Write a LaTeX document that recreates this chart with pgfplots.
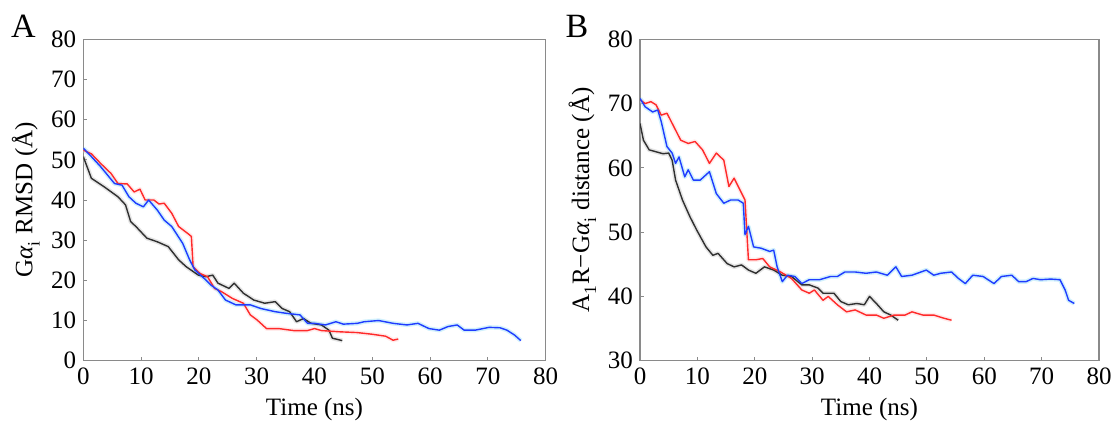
\documentclass[border=0pt]{standalone}
\usepackage{pgfplots}
\pgfplotsset{compat=1.18}
\usepackage{pgfplotstable}
\usepackage{fontspec}
\setmainfont{Liberation Serif}

\definecolor{frame}{HTML}{8A8A8A}
\definecolor{lnblack}{HTML}{303030}
\definecolor{lnred}{HTML}{FF2A2A}
\definecolor{lnblue}{HTML}{1F3CFF}

% subscript set a little lower, as in the reference
\newcommand{\lsub}[1]{\raisebox{-0.3ex}{\textsubscript{#1}}}

% panel A: Galpha_i RMSD
\pgfplotstableread{
t v
0 50.8
1.4 45.4
3.6 43.3
6 40.8
7.3 38.8
8.2 34.6
9.1 33.4
11 30.5
12.8 29.6
14.7 28.4
16.5 25.1
17.8 23.4
19.9 21.3
21.2 20.9
22.4 21.3
23.3 19.3
25.2 18
26.1 19.3
27.7 16.8
29.5 15.1
31.4 14.3
33.2 14.7
34.4 13
35.7 12.2
36.9 9.7
38.1 10.5
39.4 9.3
41.2 8.9
42.5 7.6
43.1 5.6
44.8 5
}\Ablack
\pgfplotstableread{
t v
0 52.4
1.4 51.5
3 49.1
4.8 46.6
6 44.1
7.6 44
8.8 42
9.8 42.7
10.7 40
12.2 40
13.1 39
14 39.2
15.3 36.7
16.5 33.4
18.4 31.3
18.7 30.9
19 23.4
20.2 21.7
21.5 20.9
22.7 18
23.9 17.2
25.8 15.5
27.7 14.3
28.9 11.4
30.1 10.1
31.7 8
33.8 8
36.4 7.5
38.8 7.5
40 8
41.2 7.5
44.3 7.2
47.4 7
49.9 6.6
52.3 6.1
53.6 5.1
54.5 5.4
}\Ared
\pgfplotstableread{
t v
0 52.9
1.4 50.8
3 48.3
4.2 46.2
5.4 44.1
6.7 43.7
7.9 40.8
9.1 39.2
10.4 38.3
11.3 40
12.8 37.5
14 35
15.3 33.4
17.2 29.2
18.4 25.1
19.3 22.6
20.9 20.5
22.1 18.8
23.3 17.6
24.6 15.1
26.4 13.9
28.9 13.9
30.7 13
33.2 12.2
35.1 11.8
37.5 11.4
38.8 9.3
40 9.3
41.9 8.9
43.7 9.7
45 9.1
47.4 9.3
48.6 9.7
51.1 10
53.6 9.3
56 8.9
57.9 9.3
59.8 8
61.6 7.6
63.1 8.5
64.7 8.9
65.9 7.6
67.8 7.6
70.2 8.3
72.1 8.2
73.3 7.6
74.6 6.4
75.7 5
}\Ablue

% panel B: A1R-Galpha_i distance
\pgfplotstableread{
t v
0 66.9
0.6 64.3
1.6 62.8
2.8 62.5
4 62.2
5 62.3
5.6 61.2
6.2 58.1
7.4 55
8.7 52.4
9.9 50.3
11.5 47.7
12.7 46.4
13.6 46.7
15.2 45.1
16.4 44.6
17.7 44.9
18.9 44.1
20.2 43.6
21.7 44.6
23.3 44.1
24.8 43.3
26.4 43.1
28.2 41.8
29.5 41.8
31 41.3
31.9 40.5
33.8 40.5
35 39.2
36.3 38.7
37.8 38.9
39.1 38.7
40 40
41.2 38.9
42.5 37.6
43.7 37.1
45 36.3
}\Bblack
\pgfplotstableread{
t v
0 70.6
0.9 70
1.9 70.3
2.8 69.8
3.7 68.2
4.7 68.5
5.9 66.4
7.1 64.3
8.4 63.8
9.6 64.1
10.9 62.8
12.1 60.7
13.3 62.3
14.6 61.2
15.5 57.1
16.4 58.4
17.4 56.6
18.3 55
18.9 45.7
20.2 45.7
21.4 45.9
22.6 44.6
24.5 43.8
26.4 42.8
28.2 41
29.5 40.5
30.4 41
31.9 39.4
32.8 40
34.4 38.7
36 37.6
37.5 37.9
39.4 37.1
41.2 37.1
42.5 36.6
44.3 37.1
46.2 37.1
47.4 37.6
49.3 37.1
51.2 37.1
53 36.6
54.3 36.3
}\Bred
\pgfplotstableread{
t v
0 70.8
0.9 69.5
2.2 68.7
3.1 69
3.7 67.2
4.7 63.3
5.6 62.3
6.2 60.7
6.8 61.7
7.8 58.6
8.4 59.7
9.3 58.1
10.5 58.1
12.1 59.4
13.3 56
14.6 54.5
15.8 55
17.1 55
18 54.5
18.3 49.6
18.9 50.9
19.8 47.7
21.1 47.5
22.6 47
23.3 47.2
23.9 44.6
24.8 42.3
25.7 43.3
27 43.1
28.2 42
29.5 42.6
31.3 42.6
33.2 43.1
34.4 43.1
35.7 43.8
37.5 43.8
39.4 43.6
41.2 43.8
43.1 43.3
44.6 44.6
45.6 43.1
47.4 43.3
49.9 44.1
51.2 43.3
52.4 43.6
54.3 43.8
55.5 42.8
56.7 42
58 43.3
59.8 43.1
61.7 42
63 43.1
64.8 43.3
66 42.3
67.3 42.3
68.5 42.8
69.8 42.6
71.6 42.7
73.2 42.6
74.1 41
74.7 39.4
75.7 38.9
}\Bblue

\pgfplotsset{
  panel/.style={
    scale only axis,
    height=160.7pt,
    xmin=0, xmax=80,
    xtick={0,10,...,80},
    axis line style={frame, line width=0.6pt},
    tick style={frame, line width=0.5pt},
    tick align=inside,
    tick pos=left,
    major tick length=2pt,
    ticklabel style={font=\rmfamily\fontsize{12.5}{13}\selectfont},
    label style={font=\rmfamily\fontsize{12.5}{14}\selectfont},
    /pgf/number format/assume math mode=true,
    xticklabel={\pgfmathprintnumber{\tick}},
    yticklabel={\pgfmathprintnumber{\tick}},
    xlabel={Time (ns)},
    xlabel style={yshift=0pt},
    ylabel style={yshift=-1pt},
  },
  halo/.style={line width=2.2pt, opacity=0.4, line join=round},
  ln/.style={line width=0.7pt, line join=round},
}

\begin{document}
\begin{tikzpicture}
\useasboundingbox (0,0) rectangle (559pt,214pt);

\begin{axis}[panel,
  at={(41.65pt,33.65pt)}, anchor=south west,
  width=231.2pt,
  ymin=0, ymax=80, ytick={0,10,...,80},
  ylabel={G\textit{α}\lsub{i} RMSD (Å)},
]
\addplot[halo, black!25] table {\Ablack};
\addplot[halo, red!20] table {\Ared};
\addplot[halo, cyan!45] table {\Ablue};
\addplot[ln, lnblack] table {\Ablack};
\addplot[ln, lnred] table {\Ared};
\addplot[ln, lnblue] table {\Ablue};
\end{axis}

\begin{axis}[panel,
  at={(320pt,33.65pt)}, anchor=south west,
  width=229.5pt,
  ymin=30, ymax=80, ytick={30,40,...,80},
  ylabel={A\lsub{1}R−G\textit{α}\lsub{i} distance (Å)},
]
\addplot[halo, black!25] table {\Bblack};
\addplot[halo, red!20] table {\Bred};
\addplot[halo, cyan!45] table {\Bblue};
\addplot[ln, lnblack] table {\Bblack};
\addplot[ln, lnred] table {\Bred};
\addplot[ln, lnblue] table {\Bblue};
\end{axis}

\node[font=\fontsize{17}{18}\selectfont] at (11.75pt,200.75pt) {A};
\node[font=\fontsize{17}{18}\selectfont] at (288.5pt,200.75pt) {B};
\end{tikzpicture}
\end{document}
